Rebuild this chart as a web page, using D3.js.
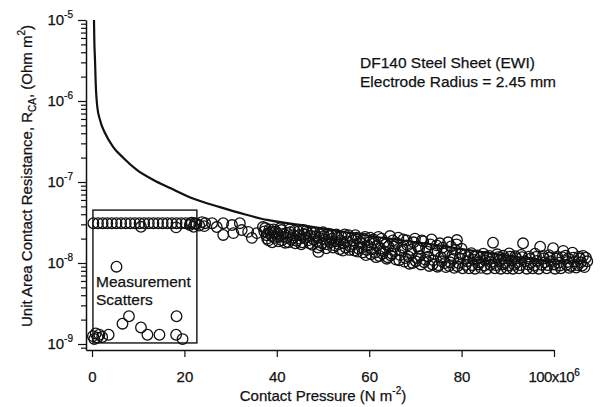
<!DOCTYPE html>
<html>
<head>
<meta charset="utf-8">
<script src="https://cdn.jsdelivr.net/npm/d3@7"></script>
<style>
  body { margin: 0; background: #fff; }
  text { font-family: "Liberation Sans", Arial, Helvetica, sans-serif; fill: #111; stroke: #111; stroke-width: 0.25px; }
</style>
</head>
<body>
<svg id="chart"></svg>
<script>
// model curve: pressure in 1e6 N/m2, resistance in Ohm m2
const curvePressure = [0.43, 0.5, 0.65, 0.8, 1.15, 1.73, 2.81, 4.6, 6.8, 9.7, 13.3, 16.9,
  22, 27.7, 33, 37.9, 45, 52.2, 59, 66.7, 75, 83, 91, 100];
const curveResistance = [1e-5, 5.66e-6, 3.21e-6, 1.67e-6, 8.43e-7, 5.82e-7, 4.03e-7, 2.7e-7,
  1.98e-7, 1.41e-7, 1.06e-7, 8.43e-8, 6.2e-8, 4.9e-8, 4.0e-8, 3.4e-8, 2.95e-8, 2.55e-8,
  2.2e-8, 1.92e-8, 1.65e-8, 1.4e-8, 1.2e-8, 1.03e-8];

// measured points: [pressure (1e6 N/m2), resistance (1e-9 Ohm m2)]
const boxedPoints = [
  [0.3,31],[1.3,31],[2.3,31],[3.3,31],[4.3,31],[5.3,31],[6.3,31],[7.3,31],[8.3,31],
  [9.3,31],[10.3,31],[11.3,31],[12.3,31],[13.3,31],[14.3,31],[15.3,31],[16.3,31],
  [17.3,31],[18.3,31],[19.3,31],[20.3,31],[21.3,31],[22.3,31],
  [10.6,28],[18.2,27.5],
  [21.2,29.5],[21.6,31.5],[22.0,28],[22.6,30.5],[23.2,29],[23.8,32],[24.3,28.5],
  [0.2,1.25],[0.5,1.15],[0.8,1.35],[1.2,1.2],[1.6,1.3],[2.2,1.22],[3.6,1.3],
  [5.3,9],[8.0,2.2],[6.6,1.78],[10.6,1.6],[12.0,1.3],[14.6,1.3],[18.3,2.2],
  [18.2,1.3],[19.6,1.15]
];
const midPoints = [
  [24.5,31],[26,31],[27,27.8],[28.4,31],[28.4,22.2],[30.3,29.4],[30.6,23.4],
  [32,31],[32.4,25.5],[33.8,24.2],[34.6,20.4],[35.7,23.4],[37,27.8],[38.1,23.4],
  [39.2,24.2]
];
const densePoints = [
  [37.5,27],[37.8,22],[38.2,19],[38.6,24],[39.3,26],[39.6,20.5],[40.1,23],[40.4,18.5],
  [41.0,25.5],[41.3,21],[41.8,17.8],[42.2,23.5],[42.8,26],[43.1,19.5],[43.6,22],[44.0,17.5],
  [44.7,24.5],[45.0,20],[45.5,18],[45.9,22.5],[46.4,25],[46.8,19],[47.3,21.5],[47.7,16.8],
  [48.2,23.5],[48.6,18.5],[49.0,13.7],[49.1,20.5],[49.5,16.5],[50.0,24],[50.4,19.5],
  [50.9,17],[51.3,21.5],[51.8,22.5],[52.2,15.5],[52.7,18.5],[53.1,20.5],[53.6,14.8],
  [54.0,21],[54.5,17.5],[54.9,15.5],[55.5,22],[55.9,16],[56.4,19],[56.8,14.2],
  [57.3,20.5],[57.7,15],[58.2,17.5],[58.6,13.5],[59.1,21],[59.5,14.5],[60.0,18],[60.4,12.8],
  [60.9,19.5],[61.3,13.5],[61.8,16.5],[62.2,12.2],[62.7,20],[63.1,14],[63.6,17],[64.0,11.8],
  [64.5,21.5],[64.9,13],[65.4,16],[65.8,11],[66.3,20.5],[66.7,12.5],[67.2,15.5],[67.6,10.4],
  [68.1,19],[68.5,12],[69.0,14.5],[69.4,10],[69.9,20],[70.3,11.5],[70.8,15],[71.2,9.6],
  [71.7,18.5],[72.1,11],[72.6,13.8],[73.0,9.2],[73.5,19.5],[73.9,10.8],[74.4,14],[74.8,9],
  [75.3,17.5],[75.7,10.5],[76.2,13],[76.6,8.9],[77.1,18],[77.5,10.2],[78.0,12.5],[78.4,8.7],
  [78.9,17],[79.0,19.2],[79.3,10],[79.8,12.8],[80.2,8.6],
  [37.3,24.5],[37.9,20],[38.4,26],[38.9,21.5],[39.0,18],[39.8,24.5],[40.3,21],[40.8,27],
  [41.1,19],[41.5,23],[42.0,20.5],[42.5,18],[42.9,24],[43.4,20.5],[43.8,25],[44.3,18.8],
  [44.9,22],[45.3,17],[45.7,25.5],[46.2,20.5],[46.6,23.5],[47.1,17.5],[47.5,24],[48.0,19.5],
  [48.4,21.5],[48.9,15.5],[49.3,22.5],[49.8,17.5],[50.2,21.5],[50.7,15.2],[51.1,23],[51.6,18],
  [52.0,20],[52.5,16.5],[52.9,22.5],[53.4,17],[53.8,19],[54.3,14.2],[54.7,22.5],[55.2,18.5],
  [55.7,14.5],[56.1,20.5],[56.6,17],[57.0,22],[57.5,13.8],[57.9,18.5],[58.4,15.5],[58.8,20],
  [59.3,12.5],[59.7,16.5],[60.2,20.5],[60.6,14.8],[61.1,17.5],[61.5,11.8],[62.0,21],[62.4,15],
  [62.9,13],[63.3,18],[63.8,11.3],[64.2,16],[64.7,12.4],[65.1,19],[65.6,14],[66.0,17.5],
  [66.5,10.8],[66.9,14.2],[67.4,19.5],[67.8,11.5],[68.3,16.5],[68.7,9.8],[69.2,13.2],[69.6,18],
  [70.1,10.5],[70.5,16],[71.0,12.2],[71.4,19],[71.9,10.2],[72.3,15.5],[72.8,12],[73.2,17],
  [73.7,9.6],[74.1,13],[74.6,16.5],[75.0,9.4],[75.5,11.8],[75.9,15.5],[76.4,10],[76.8,14],
  [77.3,9.2],[77.7,16],[78.2,11.2],[78.6,14.5],[79.1,9.1],[79.6,11.5],[80.0,15]
];
const tailPoints = [
  [80.8,12.6],[81.2,10.5],[81.6,8.6],[82.1,13.2],[82.5,11],[82.9,8.5],
  [83.4,12.4],[83.8,10.2],[84.2,8.7],[84.7,13],[85.1,10.8],[85.5,8.5],
  [86.0,12.2],[86.4,10.3],[86.8,17.8],[87.2,8.6],[87.7,12.8],[88.1,10.6],[88.5,8.5],
  [89.0,12.3],[89.4,10.1],[89.8,8.6],[90.3,13.1],[90.7,10.7],[91.1,8.5],
  [91.6,12.1],[92.0,10.2],[92.4,8.6],[92.9,12.6],[93.3,17.5],[93.7,10.5],[94.1,8.5],
  [94.6,12],[95.0,10.1],[95.4,8.6],[95.9,13],[96.3,10.6],[96.7,8.5],[97.0,15.9],
  [97.6,12.2],[98.0,10.2],[98.4,8.6],[98.9,12.5],[99.3,10.5],[99.8,15.2],[100.2,8.5],
  [100.7,12],[101.1,10.1],[101.5,8.6],[102.0,14.1],[102.5,12.3],[102.9,10.3],[103.3,8.7],
  [104.0,13.4],[104.4,10.4],[104.8,8.8],[105.4,12],[105.8,10.2],[106.3,12.2],[106.6,8.9],
  [107.2,10.5],
  [80.9,9.5],[81.4,11.8],[82.3,9.4],[82.7,12],[83.6,9.6],[84.0,11.6],[84.9,9.3],[85.3,12],
  [86.2,9.5],[86.6,11.5],[87.5,9.4],[87.9,11.8],[88.8,9.6],[89.2,11.4],[90.1,9.3],[90.5,12],
  [91.4,9.5],[91.8,11.5],[92.7,9.4],[93.1,11.8],[94.4,9.6],[94.8,11.3],[95.7,9.3],[96.1,11.9],
  [97.3,9.5],[97.8,11.4],[98.7,9.4],[99.1,11.7],[100.0,9.6],[100.5,11.3],[101.3,9.3],
  [101.8,11.8],[102.7,9.5],[103.1,11.4],[103.7,9.2],[104.2,11.6],[105.1,9.4],[105.6,11.3],
  [106.1,9.3],[106.9,11.6]
];

const xTicks = [0, 20, 40, 60, 80, 100];
const yDecades = [-9, -8, -7, -6, -5];
const noteLines = ["DF140 Steel Sheet (EWI)", "Electrode Radius = 2.45 mm"];
const boxLines = ["Measurement", "Scatters"];
const boxPressure = [0.2, 22.7];
const boxResistance = [1.03e-9, 4.5e-8];

const width = 616, height = 407;
const svg = d3.select("#chart").attr("width", width).attr("height", height);

const x = d3.scaleLinear().domain([-1.3, 100]).range([86, 554]);
const y = d3.scaleLog().domain([8.43e-10, 1e-5]).range([350, 20]);

// y axis: minor ticks then major ticks with 10^n labels
const minor = [];
yDecades.concat([-10]).forEach(d => {
  for (let k = 2; k <= 9; k++) {
    const v = k * Math.pow(10, d);
    if (v >= y.domain()[0] && v <= y.domain()[1]) minor.push(v);
  }
});

svg.append("g")
  .attr("transform", "translate(86,0)")
  .call(d3.axisLeft(y).tickValues(minor).tickSize(5).tickFormat("").tickSizeOuter(0))
  .call(g => g.select(".domain").remove())
  .selectAll("line").attr("stroke", "#111").attr("stroke-width", 1.2);

const yAxis = svg.append("g")
  .attr("transform", "translate(86,0)")
  .call(d3.axisLeft(y).tickValues(yDecades.map(d => Math.pow(10, d)))
    .tickSize(8).tickPadding(5).tickSizeOuter(0).tickFormat(""));
yAxis.select(".domain").attr("stroke", "#111").attr("stroke-width", 1.5);
yAxis.selectAll("line").attr("stroke", "#111").attr("stroke-width", 1.2);
yAxis.selectAll(".tick text").each(function(d) {
  const t = d3.select(this).attr("font-size", 15).attr("font-family", null).attr("fill", "#111");
  t.append("tspan").text("10");
  t.append("tspan").attr("font-size", 10).attr("dy", -7)
    .text(String(Math.round(Math.log10(d))));
});

// x axis
const xAxis = svg.append("g")
  .attr("transform", "translate(0,350)")
  .call(d3.axisBottom(x).tickValues(xTicks).tickSize(7).tickPadding(14).tickSizeOuter(0)
    .tickFormat(d => d === 100 ? "" : d));
xAxis.select(".domain").attr("stroke", "#111").attr("stroke-width", 1.5);
xAxis.selectAll("line").attr("stroke", "#111").attr("stroke-width", 1.2);
xAxis.selectAll(".tick text").attr("font-size", 15).attr("font-family", null).attr("fill", "#111")
  .each(function(d) {
    if (d !== 100) return;
    const t = d3.select(this).attr("text-anchor", "start").attr("x", -26)
      .attr("letter-spacing", -0.6);
    t.append("tspan").text("100x10");
    t.append("tspan").attr("font-size", 10).attr("dy", -6).text("6");
  });

// axis titles
const yTitle = svg.append("text")
  .attr("transform", "translate(32,176) rotate(-90)")
  .attr("text-anchor", "middle")
  .attr("font-size", 15);
yTitle.append("tspan").text("Unit Area Contact Resistance, R");
yTitle.append("tspan").attr("font-size", 10).attr("dy", 4).text("CA");
yTitle.append("tspan").attr("dy", -4).text(", (Ohm  m");
yTitle.append("tspan").attr("font-size", 10).attr("dy", -7).text("2");
yTitle.append("tspan").attr("dy", 7).text(")");

const xTitle = svg.append("text")
  .attr("x", 323).attr("y", 401)
  .attr("text-anchor", "middle")
  .attr("font-size", 15);
xTitle.append("tspan").text("Contact Pressure (N m");
xTitle.append("tspan").attr("font-size", 10).attr("dy", -7).text("-2");
xTitle.append("tspan").attr("dy", 7).text(")");

// annotation box around the low-pressure scatter
svg.append("rect")
  .attr("x", x(boxPressure[0]))
  .attr("y", y(boxResistance[1]))
  .attr("width", x(boxPressure[1]) - x(boxPressure[0]))
  .attr("height", y(boxResistance[0]) - y(boxResistance[1]))
  .attr("fill", "none").attr("stroke", "#111").attr("stroke-width", 1.4);

svg.selectAll(".box-label")
  .data(boxLines)
  .enter().append("text")
  .attr("class", "box-label")
  .attr("x", 96)
  .attr("y", (d, i) => 287 + i * 18)
  .attr("font-size", 15.5)
  .text(d => d);

// measurement circles
const allPoints = boxedPoints.concat(midPoints, densePoints, tailPoints);
svg.append("g").selectAll("circle")
  .data(allPoints)
  .enter().append("circle")
  .attr("cx", d => x(d[0]))
  .attr("cy", d => y(d[1] * 1e-9))
  .attr("r", 5.3)
  .attr("fill", "none")
  .attr("stroke", "#111")
  .attr("stroke-width", 1.3);

// model curve
const line = d3.line()
  .x(d => x(d[0]))
  .y(d => y(d[1]))
  .curve(d3.curveMonotoneX);

svg.append("path")
  .datum(curvePressure.map((p, i) => [p, curveResistance[i]]))
  .attr("d", line)
  .attr("fill", "none")
  .attr("stroke", "#111")
  .attr("stroke-width", 2.2);

// note text
svg.selectAll(".note")
  .data(noteLines)
  .enter().append("text")
  .attr("class", "note")
  .attr("x", 360)
  .attr("y", (d, i) => 68 + i * 19)
  .attr("font-size", 15.5)
  .text(d => d);
</script>
</body>
</html>
